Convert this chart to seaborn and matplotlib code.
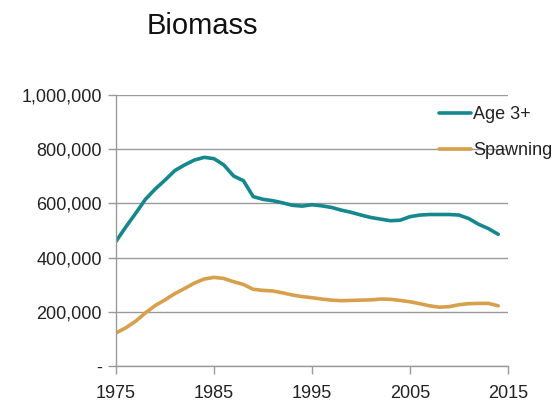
import numpy as np
import pandas as pd
import matplotlib
matplotlib.use("Agg")
import matplotlib.pyplot as plt
import seaborn as sns
from matplotlib.ticker import FuncFormatter

# Data
years = list(range(1975, 2015))
age3_plus = [460, 513, 563, 615, 653, 686, 721, 742, 760, 770,
             765, 742, 701, 684, 625, 615, 610, 602, 593, 590,
             595, 591, 585, 575, 567, 557, 548, 542, 536, 538,
             551, 557, 559, 559, 559, 557, 544, 523, 507, 486]
spawning = [122, 141, 165, 196, 223, 244, 267, 286, 306, 321,
            327, 323, 311, 301, 283, 279, 277, 270, 262, 256,
            252, 247, 243, 241, 242, 243, 244, 247, 246, 242,
            237, 230, 222, 217, 219, 226, 230, 231, 231, 222]
series_names = ["Age 3+", "Spawning"]
colors = ["#15878f", "#d7a04c"]
x_ticks = [1975, 1985, 1995, 2005, 2015]
y_ticks = [0, 200000, 400000, 600000, 800000, 1000000]

df = pd.DataFrame({"year": years,
                   "Age 3+": np.array(age3_plus) * 1000,
                   "Spawning": np.array(spawning) * 1000})
long_df = df.melt(id_vars="year", var_name="series", value_name="biomass")

sns.set_style("white")
plt.rcParams['font.family'] = ['Liberation Sans', 'DejaVu Sans']

fig = plt.figure(figsize=(5.57, 4.07), dpi=100)
ax = fig.add_axes([116 / 557, 1 - 366 / 407, 392 / 557, 271 / 407])

sns.lineplot(data=long_df, x="year", y="biomass", hue="series",
             hue_order=series_names, palette=colors, linewidth=2.6, ax=ax)

ax.set_xlim(1975, 2015)
ax.set_ylim(0, 1000000)
ax.set_xticks(x_ticks)
ax.set_yticks(y_ticks)
ax.yaxis.set_major_formatter(FuncFormatter(lambda v, p: "-" if v == 0 else f"{int(v):,}"))
ax.set_xlabel("")
ax.set_ylabel("")

ax.grid(axis="y", color="#9a9a9a", linewidth=1)
ax.set_axisbelow(True)
for side in ["top", "right"]:
    ax.spines[side].set_visible(False)
for side in ["left", "bottom"]:
    ax.spines[side].set_color("#9a9a9a")
    ax.spines[side].set_linewidth(1)
ax.tick_params(axis="both", which="major", length=6, width=1, color="#9a9a9a",
               labelsize=13, labelcolor="#222222", direction="out")
ax.tick_params(axis="y", pad=4)
ax.tick_params(axis="x", pad=8)
ax.tick_params(left=True, bottom=True)

# legend sits partly over the gridlines, text runs past the plot edge
leg = ax.legend(loc="upper left", bbox_to_anchor=(439 / 557, 1 - 106 / 407),
                bbox_transform=fig.transFigure, frameon=False, fontsize=13,
                handlelength=1.8, handletextpad=0.1, labelspacing=1.05,
                borderaxespad=0, borderpad=0)
for t in leg.get_texts():
    t.set_color("#222222")

fig.text(147 / 557, 1 - 26 / 407, "Biomass", fontsize=21, color="#111111",
         ha="left", va="center")

fig.savefig("out.png", dpi=100)
